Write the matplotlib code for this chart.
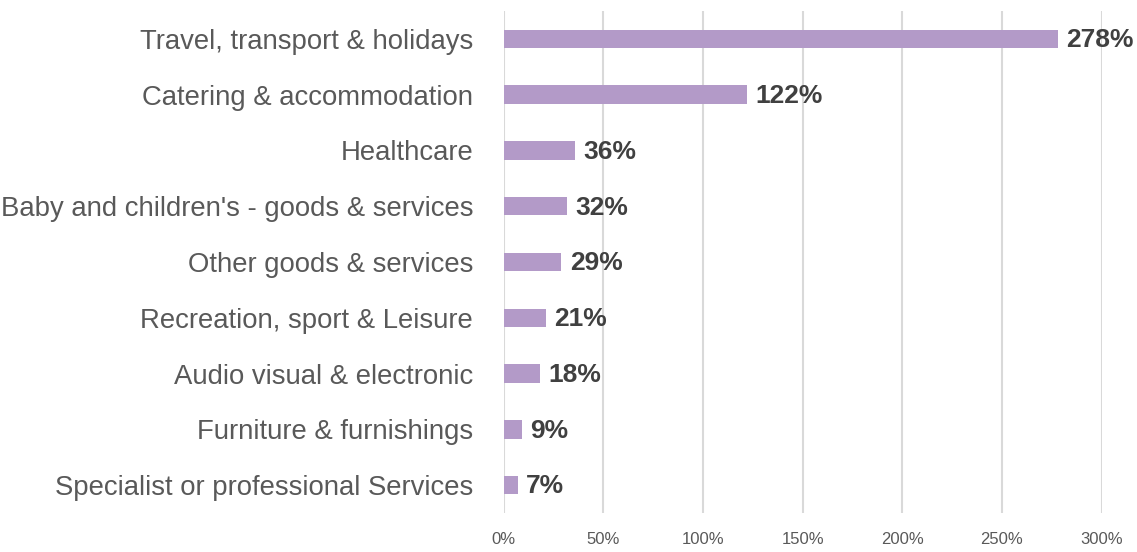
import matplotlib.pyplot as plt
import matplotlib.ticker as mtick

# Data
categories = ['Travel, transport & holidays', 'Catering & accommodation', 'Healthcare',
              "Baby and children's - goods & services", 'Other goods & services',
              'Recreation, sport & Leisure', 'Audio visual & electronic',
              'Furniture & furnishings', 'Specialist or professional Services']
values = [2.78, 1.22, 0.36, 0.32, 0.29, 0.21, 0.18, 0.09, 0.07]
xticks = [0, 0.5, 1.0, 1.5, 2.0, 2.5, 3.0]

plt.rcParams['font.family'] = ['Liberation Sans', 'DejaVu Sans']

fig = plt.figure(figsize=[11.37, 5.52], dpi=100)
ax = fig.add_axes([0.443, 0.0707, 0.9688 - 0.443, 0.98 - 0.0707])

ypos = list(range(len(categories)))[::-1]
ax.barh(ypos, values, height=0.33, color='#B39AC8', zorder=3)

for y, v in zip(ypos, values):
    ax.annotate('{:.0f}%'.format(v * 100), (v, y), xytext=(6, -1), textcoords='offset points',
                va='center', ha='left', fontsize=19, fontweight='bold', color='#404040')

ax.set_xlim(0, 3.0)
ax.set_ylim(-0.5, len(categories) - 0.5)
ax.set_xticks(xticks)
ax.xaxis.set_major_formatter(mtick.PercentFormatter(1.0, decimals=0))
ax.set_yticks(ypos)
ax.set_yticklabels(categories, fontsize=19.8, color='#595959')
ax.tick_params(axis='x', labelsize=12, colors='#595959', length=0, pad=14)
ax.tick_params(axis='y', length=0, pad=22)
ax.grid(axis='x', color='#D9D9D9', linewidth=1.5, zorder=0)
for s in ax.spines.values():
    s.set_visible(False)

plt.savefig('out.png', format='png')
